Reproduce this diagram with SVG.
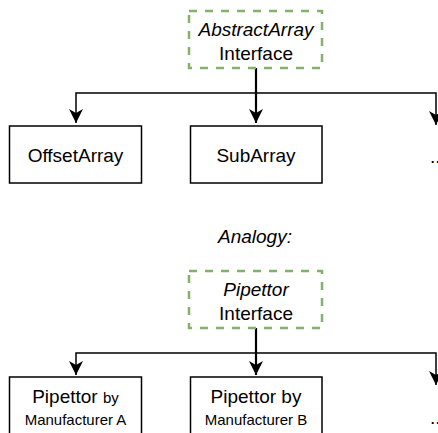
<svg xmlns="http://www.w3.org/2000/svg" width="438" height="433" viewBox="0 0 438 433">
<style>
text{font-family:"Liberation Sans",Arial,sans-serif;font-size:19px;fill:#000;text-anchor:middle}
.it{font-style:italic}
.sm{font-size:15px}
.iface{fill:none;stroke:#82b366;stroke-width:2.5;stroke-dasharray:8 8}
.box{fill:#fff;stroke:#000;stroke-width:1.5}
.edge{fill:none;stroke:#000;stroke-width:1.5}
</style>
<defs>
<marker id="arr" markerUnits="userSpaceOnUse" markerWidth="16" markerHeight="16" refX="14" refY="7" orient="auto" overflow="visible">
<path d="M0,0 L14,7 L0,14 L4,7 Z" fill="#000"/>
</marker>
</defs>
<rect width="438" height="433" fill="#fff"/>
<g id="connectors">
<path class="edge" d="M256,68 V93 H76 V123" marker-end="url(#arr)"/>
<path class="edge" style="stroke-width:2.2" d="M256,68 V123" marker-end="url(#arr)"/>
<path class="edge" d="M256,93 H436 V125" marker-end="url(#arr)"/>
<path class="edge" d="M256,328 V353 H76 V375" marker-end="url(#arr)"/>
<path class="edge" style="stroke-width:2.2" d="M256,328 V375" marker-end="url(#arr)"/>
<path class="edge" d="M256,353 H436 V385" marker-end="url(#arr)"/>
</g>
<g id="abstractarray">
<rect class="iface" x="189" y="11" width="133" height="57"/>
<text class="it" x="256" y="36">AbstractArray</text>
<text x="256" y="60">Interface</text>
</g>
<g id="offsetarray">
<rect class="box" x="9.5" y="126" width="132" height="57"/>
<text x="75.5" y="162">OffsetArray</text>
</g>
<g id="subarray">
<rect class="box" x="190.5" y="126" width="131.5" height="57"/>
<text x="256" y="162">SubArray</text>
</g>
<g id="more1">
<text x="430" y="163" style="text-anchor:start">...</text>
</g>
<g id="analogy">
<text class="it" x="255" y="243">Analogy:</text>
</g>
<g id="pipettor">
<rect class="iface" x="189" y="271" width="133" height="57"/>
<text class="it" x="256" y="296">Pipettor</text>
<text x="256" y="320">Interface</text>
</g>
<g id="pipettorA">
<rect class="box" x="9.5" y="377" width="132" height="62"/>
<text x="75.5" y="403">Pipettor <tspan class="sm">by</tspan></text>
<text class="sm" x="75.5" y="425">Manufacturer A</text>
</g>
<g id="pipettorB">
<rect class="box" x="190.5" y="377" width="131.5" height="62"/>
<text x="256" y="403">Pipettor by</text>
<text class="sm" x="256" y="425">Manufacturer B</text>
</g>
<g id="more2">
<text x="430" y="424" style="text-anchor:start">...</text>
</g>
</svg>
